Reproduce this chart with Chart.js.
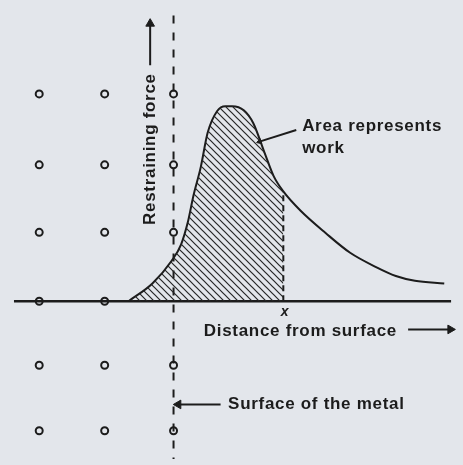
<!DOCTYPE html>
<html lang="en">
<head>
    <meta charset="UTF-8">
    <title>Restraining force vs distance from surface</title>
    <script src="https://cdn.jsdelivr.net/npm/chart.js@4"></script>
    <style>
        html, body { margin: 0; padding: 0; background: #e3e6eb; }
        #wrap { width: 463px; height: 465px; }
    </style>
</head>
<body>
    <div id="wrap">
        <canvas id="forceChart" width="463" height="465"></canvas>
    </div>
    <script>
        // Force curve (x: distance in lattice spacings, y: force)
        const curveX = [-0.66, -0.31, -0.03, 0.11, 0.21, 0.29, 0.40, 0.50, 0.64, 0.76, 0.86, 1.03, 1.17, 1.33, 1.47, 1.61, 1.86, 2.23, 2.59, 2.97, 3.26, 3.54, 3.97];
        const curveY = [0.00, 0.26, 0.59, 0.83, 1.16, 1.54, 1.97, 2.47, 2.79, 2.86, 2.86, 2.80, 2.61, 2.19, 1.83, 1.61, 1.33, 1.00, 0.71, 0.50, 0.37, 0.30, 0.26];

        // position "x" where the work is measured up to
        const markX = 1.61;

        // lattice of metal atoms
        const atomCols = [-1.97, -1.01, 0];
        const atomRows = [3.04, 2.00, 1.01, 0, -0.94, -1.90];

        const ink = '#1c1c1c';

        const curvePts = curveX.map((x, i) => ({ x: x, y: curveY[i] }));
        const workPts = curvePts.filter(p => p.x <= markX + 1e-9);
        const markTop = curveY[curveX.indexOf(markX)];

        const atoms = [];
        atomCols.forEach(cx => {
            atomRows.forEach(ry => {
                // no atom drawn where the surface line meets the axis
                if (cx === 0 && ry === 0) return;
                atoms.push({ x: cx, y: ry });
            });
        });

        // hatching for the work area
        function hatch() {
            const s = 7;
            const c = document.createElement('canvas');
            c.width = s; c.height = s;
            const g = c.getContext('2d');
            g.strokeStyle = '#262626';
            g.lineWidth = 1.2;
            g.beginPath();
            g.moveTo(-1, -1); g.lineTo(s + 1, s + 1);
            g.moveTo(-1, s - 1); g.lineTo(1, s + 1);
            g.moveTo(s - 1, -1); g.lineTo(s + 1, 1);
            g.stroke();
            return g.createPattern(c, 'repeat');
        }

        function arrow(pts, heads, rotations, radius) {
            return {
                data: pts,
                showLine: true,
                borderColor: ink,
                borderWidth: 2,
                backgroundColor: ink,
                pointStyle: 'triangle',
                pointRadius: heads.map(h => h ? radius : 0),
                pointRotation: rotations,
                pointBorderWidth: 1
            };
        }

        const labels = [
            { text: 'Restraining force', x: -0.343, y: 2.23, align: 'center', rotate: true },
            { text: 'Area represents', x: 1.886, y: 2.56, align: 'left' },
            { text: 'work', x: 1.886, y: 2.24, align: 'left' },
            { text: 'x', x: 1.63, y: -0.16, align: 'center', italic: true },
            { text: 'Distance from surface', x: 0.443, y: -0.44, align: 'left' },
            { text: 'Surface of the metal', x: 0.80, y: -1.51, align: 'left' }
        ];

        const textPlugin = {
            id: 'figureText',
            afterDatasetsDraw(chart) {
                const ctx = chart.ctx;
                const sx = chart.scales.x, sy = chart.scales.y;
                ctx.save();
                ctx.fillStyle = ink;
                ctx.textBaseline = 'middle';
                labels.forEach(l => {
                    const px = sx.getPixelForValue(l.x);
                    const py = sy.getPixelForValue(l.y);
                    ctx.font = l.italic ? 'italic bold 14px "Liberation Sans"' : 'bold 17px "Liberation Sans"';
                    ctx.letterSpacing = l.italic ? '0px' : '0.7px';
                    ctx.textAlign = l.align;
                    ctx.save();
                    ctx.translate(px, py);
                    if (l.rotate) ctx.rotate(-Math.PI / 2);
                    ctx.fillText(l.text, 0, 0);
                    ctx.restore();
                });
                ctx.restore();
            }
        };

        new Chart(document.getElementById('forceChart'), {
            type: 'scatter',
            data: {
                datasets: [
                    {
                        data: workPts,
                        showLine: true,
                        borderWidth: 0,
                        pointRadius: 0,
                        cubicInterpolationMode: 'monotone',
                        fill: 'origin',
                        backgroundColor: hatch()
                    },
                    {
                        data: curvePts,
                        showLine: true,
                        borderColor: ink,
                        borderWidth: 2,
                        pointRadius: 0,
                        cubicInterpolationMode: 'monotone'
                    },
                    {
                        data: [{ x: -2.34, y: 0 }, { x: 4.07, y: 0 }],
                        showLine: true,
                        borderColor: ink,
                        borderWidth: 2.5,
                        pointRadius: 0
                    },
                    {
                        data: [{ x: 0, y: 4.19 }, { x: 0, y: -2.4 }],
                        showLine: true,
                        borderColor: ink,
                        borderWidth: 2,
                        borderDash: [8, 9],
                        pointRadius: 0
                    },
                    {
                        data: [{ x: markX, y: 0 }, { x: markX, y: markTop }],
                        showLine: true,
                        borderColor: ink,
                        borderWidth: 2,
                        borderDash: [6, 4],
                        pointRadius: 0
                    },
                    {
                        data: atoms,
                        showLine: false,
                        pointStyle: 'circle',
                        pointRadius: 3.5,
                        pointBorderWidth: 2,
                        borderColor: ink,
                        backgroundColor: 'rgba(0,0,0,0)'
                    },
                    arrow([{ x: -0.343, y: 3.46 }, { x: -0.343, y: 4.07 }], [false, true], [0, 0], 5),
                    arrow([{ x: 3.44, y: -0.414 }, { x: 4.06, y: -0.414 }], [false, true], [0, 90], 5),
                    arrow([{ x: 0.07, y: -1.514 }, { x: 0.69, y: -1.514 }], [true, false], [270, 0], 5),
                    arrow([{ x: 1.80, y: 2.51 }, { x: 1.26, y: 2.34 }], [false, true], [0, 252], 3)
                ]
            },
            options: {
                responsive: false,
                animation: false,
                layout: { padding: 0 },
                plugins: {
                    legend: { display: false },
                    tooltip: { enabled: false }
                },
                scales: {
                    x: { type: 'linear', display: false, min: -2.457, max: 4.157 },
                    y: { type: 'linear', display: false, min: -2.314, max: 4.329 }
                }
            },
            plugins: [textPlugin]
        });
    </script>
</body>
</html>
